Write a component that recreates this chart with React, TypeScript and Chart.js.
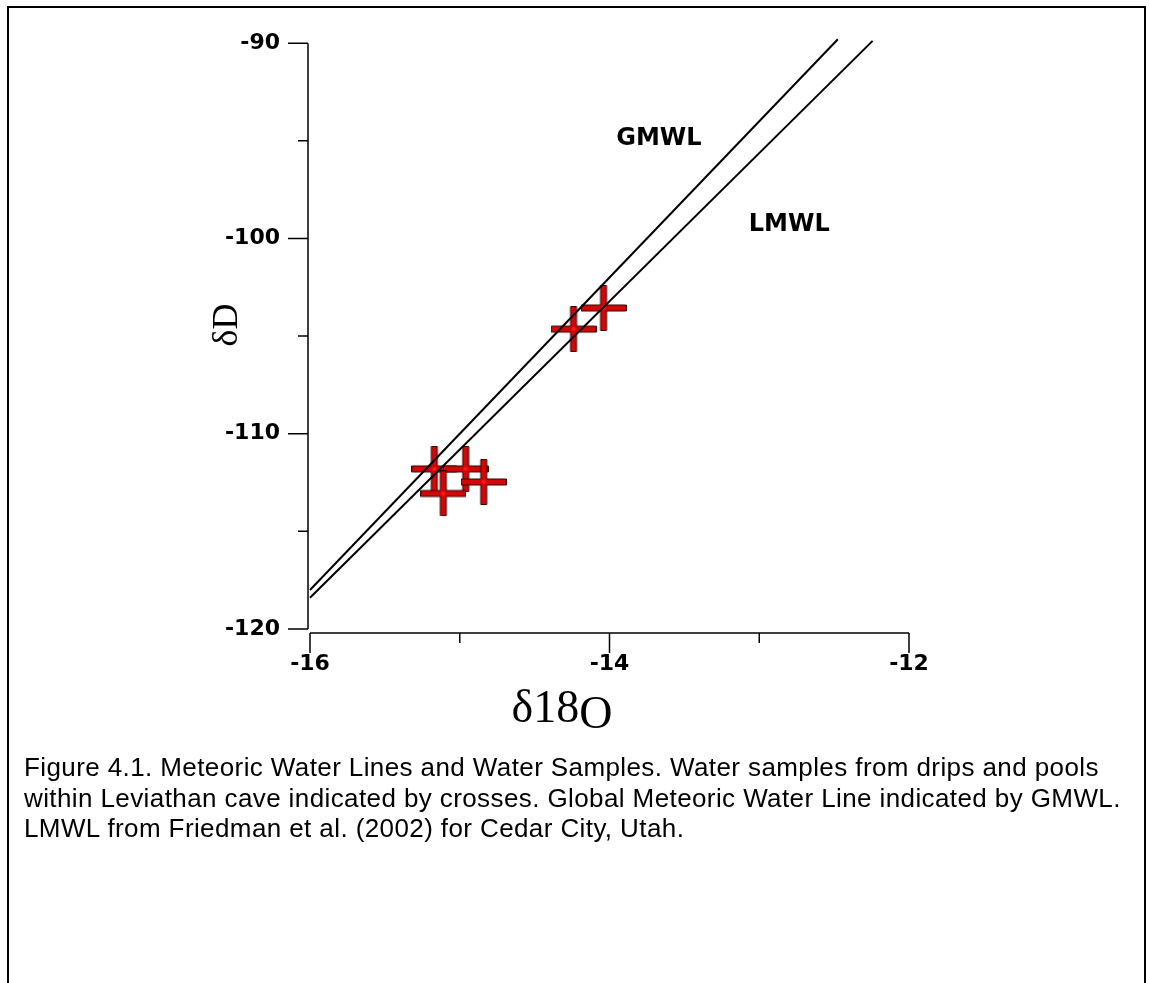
import { useEffect, useRef } from "react";
import { Chart, registerables } from "chart.js";

Chart.register(...registerables);

// Meteoric water lines (δ18O, δD)
const gmwlO = [-16, -12.475];
const gmwlD = [-118, -89.8];
const lmwlO = [-16, -12.243];
const lmwlD = [-118.4, -89.88];

// Water samples from drips and pools
const sampleO = [-15.17, -14.96, -15.11, -14.84, -14.24, -14.04];
const sampleD = [-111.8, -111.8, -113.06, -112.47, -104.64, -103.56];

// Axis ticks
const xTicks = [-16, -14, -12];
const xMinorTicks = [-15, -13];
const yTicks = [-90, -100, -110, -120];
const yMinorTicks = [-95, -105, -115];

// Line labels
const lineLabels = ["GMWL", "LMWL"];
const lineLabelO = [-13.67, -12.8];
const lineLabelD = [-94.9, -99.3];

const captionLines = [
  "Figure 4.1. Meteoric Water Lines and Water Samples. Water samples from drips and pools",
  "within Leviathan cave indicated by crosses. Global Meteoric Water Line indicated by GMWL.",
  "LMWL from Friedman et al. (2002) for Cedar City, Utah.",
];

function makeCross(): HTMLCanvasElement {
  const s = 46;
  const t = 6;
  const c = document.createElement("canvas");
  c.width = s;
  c.height = s;
  const g = c.getContext("2d")!;
  const a = (s - t) / 2;
  const b = a + t;
  g.beginPath();
  g.moveTo(a, 0.5);
  g.lineTo(b, 0.5);
  g.lineTo(b, a);
  g.lineTo(s - 0.5, a);
  g.lineTo(s - 0.5, b);
  g.lineTo(b, b);
  g.lineTo(b, s - 0.5);
  g.lineTo(a, s - 0.5);
  g.lineTo(a, b);
  g.lineTo(0.5, b);
  g.lineTo(0.5, a);
  g.lineTo(a, a);
  g.closePath();
  g.fillStyle = "#d00808";
  g.fill();
  g.strokeStyle = "#3a0303";
  g.lineWidth = 1;
  g.stroke();
  g.fillStyle = "#ff1a1a";
  g.beginPath();
  g.arc(s / 2, s / 2, 2, 0, Math.PI * 2);
  g.fill();
  return c;
}

const W = 1149;
const H = 800;

export default function App() {
  const ref = useRef<HTMLCanvasElement | null>(null);

  useEffect(() => {
    if (!ref.current) return;
    const cross = makeCross();

    const decor = {
      id: "decor",
      beforeDatasetsDraw(chart: any) {
        const { ctx, scales } = chart;
        const x = scales.x;
        const y = scales.y;
        const axX = x.getPixelForValue(-16) - 2;
        const axY = y.getPixelForValue(-120) + 4;
        ctx.save();
        ctx.strokeStyle = "#000";
        ctx.lineWidth = 1.5;
        ctx.beginPath();
        ctx.moveTo(axX, y.getPixelForValue(-90));
        ctx.lineTo(axX, y.getPixelForValue(-120));
        yTicks.forEach((v) => {
          const p = y.getPixelForValue(v);
          ctx.moveTo(axX - 20, p);
          ctx.lineTo(axX, p);
        });
        yMinorTicks.forEach((v) => {
          const p = y.getPixelForValue(v);
          ctx.moveTo(axX - 10, p);
          ctx.lineTo(axX, p);
        });
        ctx.moveTo(x.getPixelForValue(-16), axY);
        ctx.lineTo(x.getPixelForValue(-12), axY);
        xTicks.forEach((v) => {
          const p = x.getPixelForValue(v);
          ctx.moveTo(p, axY);
          ctx.lineTo(p, axY + 20);
        });
        xMinorTicks.forEach((v) => {
          const p = x.getPixelForValue(v);
          ctx.moveTo(p, axY);
          ctx.lineTo(p, axY + 10);
        });
        ctx.stroke();
        ctx.restore();
      },
      afterDatasetsDraw(chart: any) {
        const { ctx, scales } = chart;
        const x = scales.x;
        const y = scales.y;
        ctx.save();
        ctx.fillStyle = "#000";
        ctx.textAlign = "center";
        ctx.textBaseline = "middle";
        ctx.font = 'bold 24px "DejaVu Sans"';
        lineLabels.forEach((t, i) => {
          ctx.fillText(t, x.getPixelForValue(lineLabelO[i]), y.getPixelForValue(lineLabelD[i]));
        });
        // y title
        ctx.save();
        ctx.translate(228, 325);
        ctx.rotate(-Math.PI / 2);
        ctx.font = '36px "Liberation Serif"';
        ctx.fillText("δD", 0, 0);
        ctx.restore();
        // x title
        ctx.font = '46px "Liberation Serif"';
        ctx.textAlign = "left";
        const a = "δ18";
        const wa = ctx.measureText(a).width;
        const wb = ctx.measureText("O").width;
        const x0 = 562 - (wa + wb) / 2;
        ctx.fillText(a, x0, 710);
        ctx.fillText("O", x0 + wa, 716);
        ctx.restore();
      },
    };

    const tickFont = { family: "DejaVu Sans", weight: "bold" as const, size: 22 };

    const chart = new Chart(ref.current, {
      type: "scatter",
      data: {
        datasets: [
          {
            label: "GMWL",
            data: gmwlO.map((v, i) => ({ x: v, y: gmwlD[i] })),
            showLine: true,
            borderColor: "#000",
            borderWidth: 2,
            pointRadius: 0,
            clip: false as any,
          },
          {
            label: "LMWL",
            data: lmwlO.map((v, i) => ({ x: v, y: lmwlD[i] })),
            showLine: true,
            borderColor: "#000",
            borderWidth: 2,
            pointRadius: 0,
            clip: false as any,
          },
          {
            label: "Water samples",
            data: sampleO.map((v, i) => ({ x: v, y: sampleD[i] })),
            pointStyle: cross as any,
            pointRadius: 23,
            showLine: false,
          },
        ],
      },
      options: {
        animation: false,
        responsive: false,
        maintainAspectRatio: false,
        layout: { padding: { left: 0, right: W - 909, top: 40.7, bottom: 0 } },
        plugins: { legend: { display: false }, tooltip: { enabled: false } },
        scales: {
          x: {
            type: "linear",
            min: -16,
            max: -12,
            afterFit: (s: any) => {
              s.height = H - 629;
            },
            afterBuildTicks: (s: any) => {
              s.ticks = xTicks.map((v) => ({ value: v }));
            },
            grid: { display: false, drawTicks: false },
            border: { display: false },
            ticks: { padding: 22, font: tickFont, color: "#000", maxRotation: 0, autoSkip: false },
          },
          y: {
            type: "linear",
            min: -120,
            max: -90,
            afterFit: (s: any) => {
              s.width = 310;
            },
            afterBuildTicks: (s: any) => {
              s.ticks = yTicks.map((v) => ({ value: v }));
            },
            grid: { display: false, drawTicks: false },
            border: { display: false },
            ticks: { padding: 30, font: tickFont, color: "#000", autoSkip: false },
          },
        },
      },
      plugins: [decor],
    });
    return () => chart.destroy();
  }, []);

  return (
    <>
      <div
        style={{
          position: "absolute",
          left: 7,
          top: 6,
          width: 1139,
          height: 977,
          boxSizing: "border-box",
          borderTop: "2px solid #000",
          borderLeft: "2px solid #000",
          borderRight: "2px solid #000",
        }}
      />
      <canvas
        ref={ref}
        width={W}
        height={H}
        style={{ position: "absolute", left: 0, top: 0, width: W, height: H, display: "block" }}
      />
      <div
        style={{
          position: "absolute",
          left: 24,
          top: 752,
          fontFamily: '"Liberation Sans", Arial, sans-serif',
          fontSize: 26,
          letterSpacing: "0.4px",
          lineHeight: "30.5px",
          color: "#000",
          whiteSpace: "nowrap",
        }}
      >
        {captionLines.map((l, i) => (
          <div key={i}>{l}</div>
        ))}
      </div>
    </>
  );
}
